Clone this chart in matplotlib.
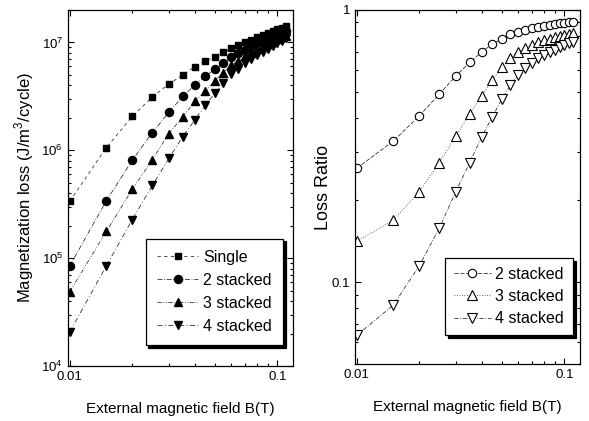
import matplotlib
matplotlib.use('Agg')
import matplotlib.pyplot as plt
from matplotlib.ticker import LogLocator, NullFormatter

plt.rcParams['font.family'] = ['Liberation Sans', 'DejaVu Sans']
plt.rcParams['mathtext.fontset'] = 'custom'
plt.rcParams['mathtext.rm'] = 'Liberation Sans'

# applied field B (T)
field = [0.010, 0.015, 0.020, 0.025, 0.030, 0.035, 0.040, 0.045, 0.050, 0.055, 0.060,
         0.065, 0.070, 0.075, 0.080, 0.085, 0.090, 0.095, 0.100, 0.105, 0.110]

# magnetization loss (J/m^3/cycle)
loss_single = [3.36e5, 1.06e6, 2.06e6, 3.13e6, 4.11e6, 5.0e6, 5.96e6, 6.7e6, 7.4e6, 8.1e6, 8.8e6,
               9.4e6, 1.0e7, 1.06e7, 1.12e7, 1.17e7, 1.22e7, 1.27e7, 1.32e7, 1.37e7, 1.42e7]
loss_2 = [8.5e4, 3.4e5, 8.1e5, 1.46e6, 2.25e6, 3.16e6, 4.03e6, 4.86e6, 5.66e6, 6.46e6, 7.3e6,
          7.94e6, 8.58e6, 9.2e6, 9.81e6, 1.033e7, 1.083e7, 1.134e7, 1.184e7, 1.233e7, 1.28e7]
loss_3 = [4.9e4, 1.77e5, 4.34e5, 8.2e5, 1.43e6, 2.04e6, 2.84e6, 3.55e6, 4.41e6, 5.25e6, 6.16e6,
          6.8e6, 7.45e6, 8.06e6, 8.68e6, 9.18e6, 9.7e6, 1.02e7, 1.07e7, 1.12e7, 1.16e7]
loss_4 = [2.07e4, 8.5e4, 2.28e5, 4.72e5, 8.4e5, 1.34e6, 1.91e6, 2.62e6, 3.37e6, 4.17e6, 5.06e6,
          5.73e6, 6.4e6, 7.05e6, 7.67e6, 8.19e6, 8.72e6, 9.27e6, 9.83e6, 1.03e7, 1.09e7]

# loss ratio (stacked / single)
ratio_2 = [0.262, 0.33, 0.408, 0.491, 0.572, 0.642, 0.701, 0.75, 0.782, 0.814, 0.83,
           0.845, 0.858, 0.868, 0.876, 0.883, 0.888, 0.893, 0.897, 0.90, 0.902]
ratio_3 = [0.141, 0.169, 0.215, 0.275, 0.344, 0.415, 0.484, 0.553, 0.616, 0.668, 0.70,
           0.725, 0.745, 0.76, 0.775, 0.785, 0.795, 0.803, 0.81, 0.815, 0.82]
ratio_4 = [0.0638, 0.0823, 0.115, 0.158, 0.215, 0.275, 0.342, 0.405, 0.47, 0.53, 0.575,
           0.61, 0.64, 0.665, 0.685, 0.70, 0.715, 0.73, 0.745, 0.755, 0.765]

fig = plt.figure(figsize=(5.89, 4.21), dpi=100)
ax1 = fig.add_axes([0.1154, 0.1306, 0.382, 0.8456])
ax2 = fig.add_axes([0.6027, 0.1354, 0.382, 0.8409])

line_kw = dict(color='#333333', lw=0.6)

ax1.plot(field, loss_single, ls=(0, (4, 4)), marker='s', ms=5, mfc='black', mec='black', label='Single', **line_kw)
ax1.plot(field, loss_2, ls=(0, (6, 2, 1, 2)), marker='o', ms=5.8, mfc='black', mec='black', label='2 stacked', **line_kw)
ax1.plot(field, loss_3, ls=(0, (5, 2, 1, 2, 1, 2)), marker='^', ms=6.2, mfc='black', mec='black', label='3 stacked', **line_kw)
ax1.plot(field, loss_4, ls=(0, (6, 3, 1, 3)), marker='v', ms=6.2, mfc='black', mec='black', label='4 stacked', **line_kw)

ax2.plot(field, ratio_2, ls=(0, (5, 2)), marker='o', ms=6, mfc='white', mec='black', mew=0.8, label='2 stacked', **line_kw)
ax2.plot(field, ratio_3, ls=(0, (1, 2)), marker='^', ms=6.5, mfc='white', mec='black', mew=0.8, label='3 stacked', **line_kw)
ax2.plot(field, ratio_4, ls=(0, (5, 2, 1, 2)), marker='v', ms=6.5, mfc='white', mec='black', mew=0.8, label='4 stacked', **line_kw)

for ax in (ax1, ax2):
    ax.set_xscale('log')
    ax.set_yscale('log')
    ax.set_xlim(0.0098, 0.119)
    ax.xaxis.set_major_locator(LogLocator(base=10))
    ax.xaxis.set_minor_locator(LogLocator(base=10, subs=range(2, 10)))
    ax.xaxis.set_minor_formatter(NullFormatter())
    ax.tick_params(which='both', direction='in', top=True, right=True, labelsize=9.5, width=0.8)
    ax.tick_params(which='major', length=4)
    ax.tick_params(which='minor', length=2)
    ax.xaxis.set_major_formatter(plt.FuncFormatter(lambda v, p: '%g' % v))
    for s in ax.spines.values():
        s.set_linewidth(0.9)
    ax.set_xlabel('External magnetic field B(T)', fontsize=11, labelpad=14)

ax1.set_ylim(1e4, 2e7)
ax1.yaxis.set_minor_locator(LogLocator(base=10, subs=range(2, 10)))
ax1.yaxis.set_minor_formatter(NullFormatter())
ax1.set_ylabel('Magnetization loss (J/m$^3$/cycle)', fontsize=12, labelpad=4)

ax2.set_ylim(0.05, 1)
ax2.yaxis.set_minor_locator(LogLocator(base=10, subs=range(2, 10)))
ax2.yaxis.set_minor_formatter(NullFormatter())
ax2.yaxis.set_major_formatter(plt.FuncFormatter(lambda v, p: '%g' % v))
ax2.set_ylabel('Loss Ratio', fontsize=13, labelpad=0)

shadow = {'color': 'black', 'alpha': 1}
leg1 = ax1.legend(loc='lower right', bbox_to_anchor=(0.956, 0.059), fontsize=11.5, frameon=True,
                  fancybox=False, shadow=shadow, handlelength=2.6, handletextpad=0.3,
                  labelspacing=0.5, borderpad=0.7, borderaxespad=0)
leg2 = ax2.legend(loc='lower right', bbox_to_anchor=(0.969, 0.082), fontsize=11.5, frameon=True,
                  fancybox=False, shadow=shadow, handlelength=2.3, handletextpad=0.3,
                  labelspacing=0.45, borderpad=0.55, borderaxespad=0)
for leg in (leg1, leg2):
    leg.get_frame().set_edgecolor('black')
    leg.get_frame().set_linewidth(0.9)
    leg.get_frame().set_alpha(1)

fig.savefig('out.png', dpi=100)
